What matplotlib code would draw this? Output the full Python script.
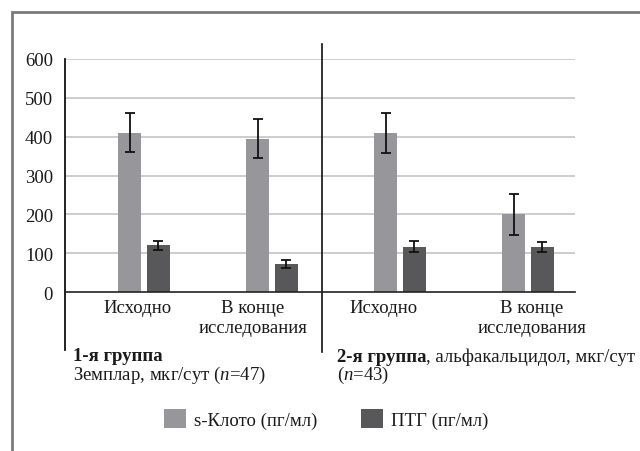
import matplotlib
matplotlib.use("Agg")
import matplotlib.pyplot as plt
from matplotlib.patches import Rectangle
import numpy as np

plt.rcParams['font.family'] = ['Liberation Serif', 'DejaVu Serif']
plt.rcParams['mathtext.fontset'] = 'custom'
plt.rcParams['mathtext.rm'] = 'Liberation Serif'
plt.rcParams['mathtext.it'] = 'Liberation Serif:italic'
plt.rcParams['mathtext.bf'] = 'Liberation Serif:bold'

# ---- data ----
categories = ["Исходно", "В конце\nисследования", "Исходно", "В конце\nисследования"]
klotho = [410, 395, 410, 200]
klotho_err = [50, 50, 52, 52]
pth = [120, 72, 117, 116]
pth_err = [12, 11, 14, 12]
series_names = ["s-Клото (пг/мл)", "ПТГ (пг/мл)"]
yticks = [0, 100, 200, 300, 400, 500, 600]
group1_title = "1-я группа"
group1_sub = "Земплар, мкг/сут ($\\mathit{n}$=47)"
group2_title = "2-я группа"
group2_rest = ", альфакальцидол, мкг/сут"
group2_sub = "($\\mathit{n}$=43)"

# ---- layout / style ----
W, H = 640, 452
c_klotho = "#97979b"
c_pth = "#58585a"
txt = "#1a1a1a"
fs = 13.5

fig = plt.figure(figsize=(W / 100, H / 100), dpi=100)
ax = fig.add_axes([65 / W, (H - 293) / H, (575 - 65) / W, (293 - 60) / H])

x = np.arange(len(categories))
bw = 0.18
off = 0.11
b1 = ax.bar(x - off, klotho, bw, color=c_klotho, label=series_names[0], zorder=2)
b2 = ax.bar(x + off, pth, bw, color=c_pth, label=series_names[1], zorder=2)
ekw = dict(fmt='none', ecolor='#111111', elinewidth=1.3, capsize=3.5, capthick=1.3, zorder=3)
ax.errorbar(x - off, klotho, yerr=klotho_err, **ekw)
ax.errorbar(x + off, pth, yerr=pth_err, **ekw)

ax.set_xlim(-0.617, 3.367)
ax.set_ylim(0, 600)
ax.set_yticks(yticks)
ax.set_yticklabels([str(v) for v in yticks], fontsize=fs, color=txt)
ax.tick_params(axis='y', length=0, pad=8.6)
ax.set_xticks([])
for v in yticks[1:]:
    ax.axhline(v, color='#c9c9c9', lw=1.3, zorder=1)
for s in ['top', 'right', 'left']:
    ax.spines[s].set_visible(False)
ax.spines['bottom'].set_color('#222222')
ax.spines['bottom'].set_linewidth(1.2)
ax.spines['bottom'].set_zorder(4)

# y axis line extending below the x axis
ax.axvline(ax.get_xlim()[0], ymin=-0.25, ymax=1.0, color='#111111', lw=1.3, clip_on=False, zorder=4)
# group divider
ax.axvline(1.39, ymin=-0.257, ymax=1.064, color='#111111', lw=1.2, clip_on=False, zorder=4)

# category labels
label_shift = [-0.05, -0.15, -0.13, 0.03]
for xi, lab, sh in zip(x, categories, label_shift):
    ax.annotate(lab, xy=(xi + sh, 0), xytext=(0, -5), textcoords='offset points',
                ha='center', va='top', fontsize=fs, color=txt, linespacing=1.25,
                annotation_clip=False)

# group captions
t1 = fig.text(73 / W, (H - 361) / H, group1_title, fontsize=fs, fontweight='bold',
              color=txt, va='baseline', ha='left')
fig.text(73 / W, (H - 380) / H, group1_sub, fontsize=fs, color=txt, va='baseline', ha='left')
t2 = fig.text(337 / W, (H - 366) / H, group2_title, fontsize=fs, fontweight='bold',
              color=txt, va='bottom', ha='left')
ax.annotate(group2_rest, xy=(1, 0), xycoords=t2, va='bottom', ha='left',
            fontsize=fs, color=txt, annotation_clip=False)
fig.text(337 / W, (H - 380) / H, group2_sub, fontsize=fs, color=txt, va='baseline', ha='left')

# legend
leg = fig.legend(handles=[b1, b2], labels=series_names, loc='center',
                 bbox_to_anchor=(326 / W, (H - 420) / H), ncol=2, frameon=False,
                 fontsize=fs, handlelength=1.17, handleheight=1.17,
                 handletextpad=0.43, columnspacing=2.35, borderpad=0)
for t in leg.get_texts():
    t.set_color(txt)

# outer frame
fig.patches.append(Rectangle((11.5 / W, -0.1), 1.2, (H - 12.5) / H + 0.1,
                             transform=fig.transFigure, fill=False,
                             edgecolor='#7a7a7a', lw=2))

fig.savefig("out.png", dpi=100)
